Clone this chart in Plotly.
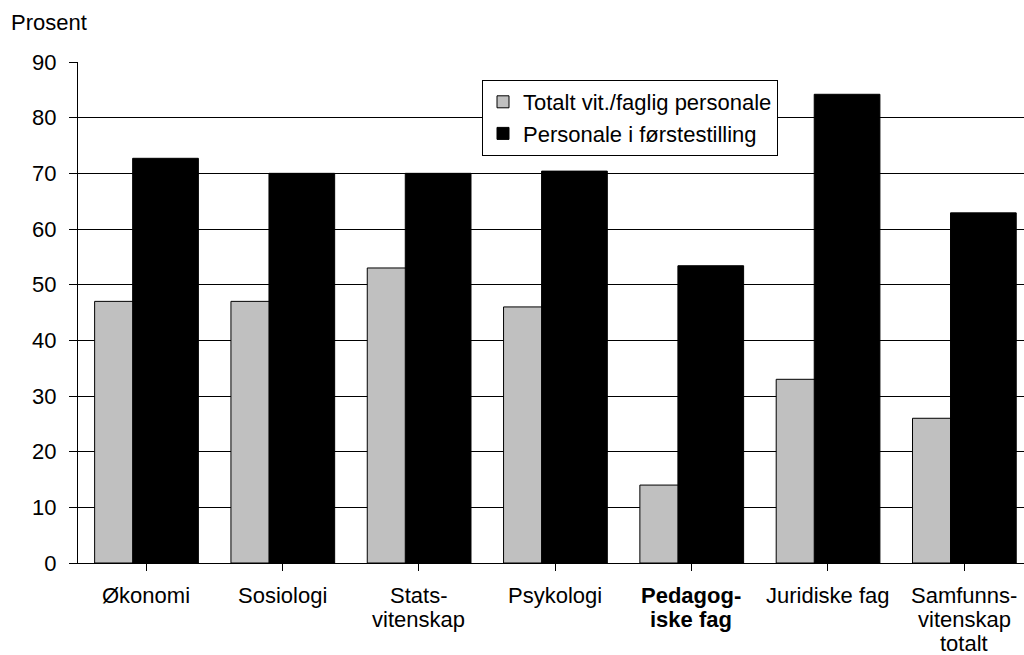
import plotly.graph_objects as go

categories = ["Økonomi", "Sosiologi", "Stats-\nvitenskap", "Psykologi",
              "Pedagog-\niske fag", "Juridiske fag", "Samfunns-\nvitenskap\ntotalt"]
bold_categories = ["Pedagog-\niske fag"]
series_names = ["Totalt vit./faglig personale", "Personale i førstestilling"]
totalt = [47, 47, 53, 46, 14, 33, 26]
forste = [72.7, 70, 70, 70.4, 53.4, 84.2, 62.9]
y_ticks = [0, 10, 20, 30, 40, 50, 60, 70, 80, 90]

FONT = "Liberation Sans, Arial, sans-serif"
FS = 22
x_idx = list(range(len(categories)))

# layout geometry (pixels)
W, H = 1024, 655
ML, MR, MT, MB = 78, 0, 62, 92
plot_h = H - MT - MB

fig = go.Figure()
fig.add_trace(go.Bar(
    x=x_idx, y=totalt, name=series_names[0],
    offset=-0.378, width=0.482,
    marker=dict(color="#C0C0C0", line=dict(color="#000000", width=1)),
))
fig.add_trace(go.Bar(
    x=x_idx, y=forste, name=series_names[1],
    offset=-0.099, width=0.482,
    marker=dict(color="#000000", line=dict(color="#000000", width=1)),
))

annotations = [dict(
    text="Prosent", xref="paper", yref="paper",
    x=(9 - ML) / (W - ML - MR), y=((H - MB) - 22) / plot_h,
    xanchor="left", yanchor="middle",
    showarrow=False, font=dict(family=FONT, size=FS, color="#000000"),
)]

line_y_px = [595, 619, 643]
for i, cat in enumerate(categories):
    lines = cat.split("\n")
    bold = cat in bold_categories
    for j, ln in enumerate(lines):
        txt = f"<b>{ln}</b>" if bold else ln
        annotations.append(dict(
            text=txt, xref="x", yref="paper",
            x=i, y=((H - MB) - line_y_px[j]) / plot_h,
            xanchor="center", yanchor="middle", showarrow=False,
            font=dict(family=FONT, size=FS, color="#000000"),
        ))

fig.update_layout(
    width=W, height=H,
    margin=dict(l=ML, r=MR, t=MT, b=MB),
    barmode="overlay",
    plot_bgcolor="white", paper_bgcolor="white",
    font=dict(family=FONT, size=FS, color="#000000"),
    showlegend=True,
    legend=dict(
        x=(482 - ML) / (W - ML - MR), y=((H - MB) - 80) / plot_h,
        xanchor="left", yanchor="top",
        bgcolor="white", bordercolor="#000000", borderwidth=1,
        font=dict(family=FONT, size=FS, color="#000000"),
        traceorder="normal",
    ),
    xaxis=dict(
        tickmode="array", tickvals=x_idx, ticktext=[""] * len(x_idx),
        range=[-0.5, 6.44], automargin=False,
        showline=True, linecolor="#000000", linewidth=1,
        ticks="outside", ticklen=7, tickcolor="#000000",
        tickson="boundaries",
        showgrid=False, zeroline=False,
    ),
    yaxis=dict(
        range=[0, 90], tickvals=y_ticks, automargin=False,
        showline=True, linecolor="#000000", linewidth=1,
        ticks="outside", ticklen=8, tickcolor="#000000",
        ticklabelstandoff=8,
        showgrid=True, gridcolor="#000000", gridwidth=1,
        zeroline=False,
        tickfont=dict(family=FONT, size=FS, color="#000000"),
    ),
    annotations=annotations,
)

fig.write_html(
    "out.html",
    config={"displayModeBar": False},
    post_script="document.body.style.margin='0';document.body.style.padding='0';",
)
